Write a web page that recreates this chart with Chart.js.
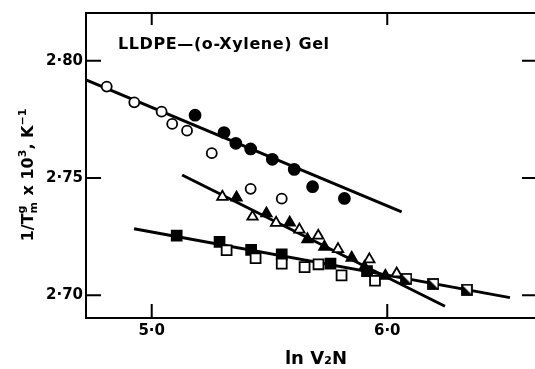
<!DOCTYPE html>
<html>
<head>
<meta charset="utf-8">
<script src="https://cdn.jsdelivr.net/npm/chart.js@4.4.1/dist/chart.umd.min.js"></script>
<style>
  html, body { margin: 0; padding: 0; background: #fff; overflow: hidden; }
  #wrap { width: 535px; height: 369px; overflow: hidden; }
</style>
</head>
<body>
<div id="wrap"><canvas id="chart" width="550" height="369"></canvas></div>
<script>
// values: ln V2N (x) vs 1/Tm x 10^3 (y)
const openCircleX = [4.809, 4.926, 5.042, 5.087, 5.150, 5.255, 5.420, 5.552];
const openCircleY = [2.7890, 2.7823, 2.7783, 2.7731, 2.7702, 2.7606, 2.7454, 2.7412];
const filledCircleX = [5.184, 5.307, 5.357, 5.420, 5.512, 5.605, 5.683, 5.818];
const filledCircleY = [2.7768, 2.7694, 2.7648, 2.7624, 2.7580, 2.7537, 2.7463, 2.7413];

const openTriX = [5.300, 5.428, 5.528, 5.627, 5.707, 5.791, 5.924, 6.040];
const openTriY = [2.7420, 2.7335, 2.7309, 2.7280, 2.7254, 2.7197, 2.7153, 2.7093];
const filledTriX = [5.360, 5.487, 5.586, 5.661, 5.733, 5.849, 5.903, 5.992];
const filledTriY = [2.7417, 2.7349, 2.7310, 2.7239, 2.7207, 2.7160, 2.7120, 2.7083];

const filledSqX = [5.106, 5.288, 5.422, 5.552, 5.759, 5.914];
const filledSqY = [2.7254, 2.7228, 2.7194, 2.7174, 2.7135, 2.7103];
const openSqX = [5.318, 5.441, 5.552, 5.649, 5.708, 5.806, 5.948];
const openSqY = [2.7192, 2.7158, 2.7135, 2.7120, 2.7132, 2.7085, 2.7062];
const halfSqX = [6.081, 6.196, 6.338];
const halfSqY = [2.7070, 2.7048, 2.7024];

// fitted straight lines (end points)
const fit1X = [4.721, 6.061];
const fit1Y = [2.7919, 2.7356];
const fit2X = [5.129, 6.245];
const fit2Y = [2.7513, 2.6953];
const fit3X = [4.925, 6.521];
const fit3Y = [2.7284, 2.6990];

const xTicks = [5.0, 6.0];
const yTicks = [2.70, 2.75, 2.80];
const xRange = [4.721, 6.640];
const yRange = [2.6903, 2.8204];

const FONT = "DejaVu Sans";

function pts(xs, ys) {
    return xs.map((x, i) => ({ x: x, y: ys[i] }));
}

function halfSquare() {
    const c = document.createElement("canvas");
    c.width = 12; c.height = 12;
    const g = c.getContext("2d");
    g.fillStyle = "#fff";
    g.fillRect(1, 1, 10, 10);
    g.fillStyle = "#000";
    g.beginPath();
    g.moveTo(1, 1); g.lineTo(1, 11); g.lineTo(11, 11);
    g.closePath();
    g.fill();
    g.strokeStyle = "#000";
    g.lineWidth = 1.8;
    g.strokeRect(1, 1, 10, 10);
    return c;
}

function markers(xs, ys, style, open, r) {
    return {
        type: "scatter",
        data: pts(xs, ys),
        pointStyle: style,
        pointRadius: r,
        pointHoverRadius: r,
        pointBackgroundColor: open ? "#fff" : "#000",
        pointBorderColor: "#000",
        pointBorderWidth: 1.8,
        order: 1
    };
}

function fitLine(xs, ys) {
    return {
        type: "scatter",
        data: pts(xs, ys),
        showLine: true,
        borderColor: "#000",
        borderWidth: 3,
        pointRadius: 0,
        order: 5
    };
}

// frame with inward ticks + axis titles + inset label
const framePlugin = {
    id: "frame",
    afterDatasetsDraw(chart) {
        const ctx = chart.ctx;
        const a = chart.chartArea;
        const xs = chart.scales.x, ys = chart.scales.y;
        ctx.save();
        ctx.strokeStyle = "#000";
        ctx.lineWidth = 2;
        ctx.strokeRect(a.left, a.top, a.right - a.left, a.bottom - a.top);
        ctx.beginPath();
        xTicks.forEach(v => {
            const px = xs.getPixelForValue(v);
            ctx.moveTo(px, a.bottom); ctx.lineTo(px, a.bottom - 14);
            ctx.moveTo(px, a.top); ctx.lineTo(px, a.top + 12);
        });
        yTicks.forEach(v => {
            const py = ys.getPixelForValue(v);
            ctx.moveTo(a.left, py); ctx.lineTo(a.left + 15, py);
            ctx.moveTo(a.right, py); ctx.lineTo(a.right - 16, py);
        });
        ctx.stroke();

        ctx.fillStyle = "#000";
        ctx.textBaseline = "alphabetic";
        ctx.font = "bold 16px " + FONT;
        ctx.letterSpacing = "0.6px";
        ctx.fillText("LLDPE—(o-Xylene) Gel", 118, 49);
        ctx.letterSpacing = "0px";

        // x title
        ctx.font = "bold 18px " + FONT;
        ctx.textAlign = "center";
        ctx.fillText("ln V₂N", 316, 364);

        // y title, rotated
        ctx.textAlign = "left";
        const big = "bold 16px " + FONT, small = "bold 11px " + FONT;
        const parts = [
            ["1/T", big, 0],
            [["g", "m"], small, 0],
            [" x 10", big, 0],
            ["3", small, -7],
            [", K", big, 0],
            ["−1", small, -7]
        ];
        let total = 0;
        parts.forEach(p => {
            ctx.font = p[1];
            if (Array.isArray(p[0])) total += Math.max(...p[0].map(t => ctx.measureText(t).width)) + 1;
            else total += ctx.measureText(p[0]).width;
        });
        ctx.translate(33, 175);
        ctx.rotate(-Math.PI / 2);
        let cx = -total / 2;
        parts.forEach(p => {
            ctx.font = p[1];
            if (Array.isArray(p[0])) {
                ctx.fillText(p[0][0], cx, -8);
                ctx.fillText(p[0][1], cx, 4);
                cx += Math.max(...p[0].map(t => ctx.measureText(t).width)) + 1;
            } else {
                ctx.fillText(p[0], cx, p[2]);
                cx += ctx.measureText(p[0]).width;
            }
        });
        ctx.restore();
    }
};

const half = halfSquare();

new Chart(document.getElementById("chart"), {
    type: "scatter",
    data: {
        datasets: [
            markers(openCircleX, openCircleY, "circle", true, 5),
            markers(filledCircleX, filledCircleY, "circle", false, 5.5),
            markers(openTriX, openTriY, "triangle", true, 6),
            markers(filledTriX, filledTriY, "triangle", false, 6),
            markers(openSqX, openSqY, "rect", true, 7),
            markers(filledSqX, filledSqY, "rect", false, 7),
            markers(halfSqX, halfSqY, half, true, 7),
            fitLine(fit1X, fit1Y),
            fitLine(fit2X, fit2Y),
            fitLine(fit3X, fit3Y)
        ]
    },
    options: {
        responsive: false,
        animation: false,
        devicePixelRatio: 1,
        layout: { padding: { top: 13, right: 12, left: 0, bottom: 0 } },
        plugins: {
            legend: { display: false },
            tooltip: { enabled: false }
        },
        scales: {
            x: {
                type: "linear",
                min: xRange[0],
                max: xRange[1],
                grid: { display: false, drawTicks: false },
                border: { display: false },
                afterBuildTicks: s => { s.ticks = xTicks.map(v => ({ value: v })); },
                afterFit: s => { s.height = 51; },
                ticks: {
                    color: "#000",
                    padding: 4,
                    maxRotation: 0,
                    font: { family: FONT, size: 15, weight: "bold" },
                    callback: v => v.toFixed(1).replace(".", "·")
                }
            },
            y: {
                type: "linear",
                min: yRange[0],
                max: yRange[1],
                grid: { display: false, drawTicks: false },
                border: { display: false },
                afterBuildTicks: s => { s.ticks = yTicks.map(v => ({ value: v })); },
                afterFit: s => { s.width = 86; },
                ticks: {
                    color: "#000",
                    padding: 3,
                    font: { family: FONT, size: 15, weight: "bold" },
                    callback: v => v.toFixed(2).replace(".", "·")
                }
            }
        }
    },
    plugins: [framePlugin]
});
</script>
</body>
</html>
